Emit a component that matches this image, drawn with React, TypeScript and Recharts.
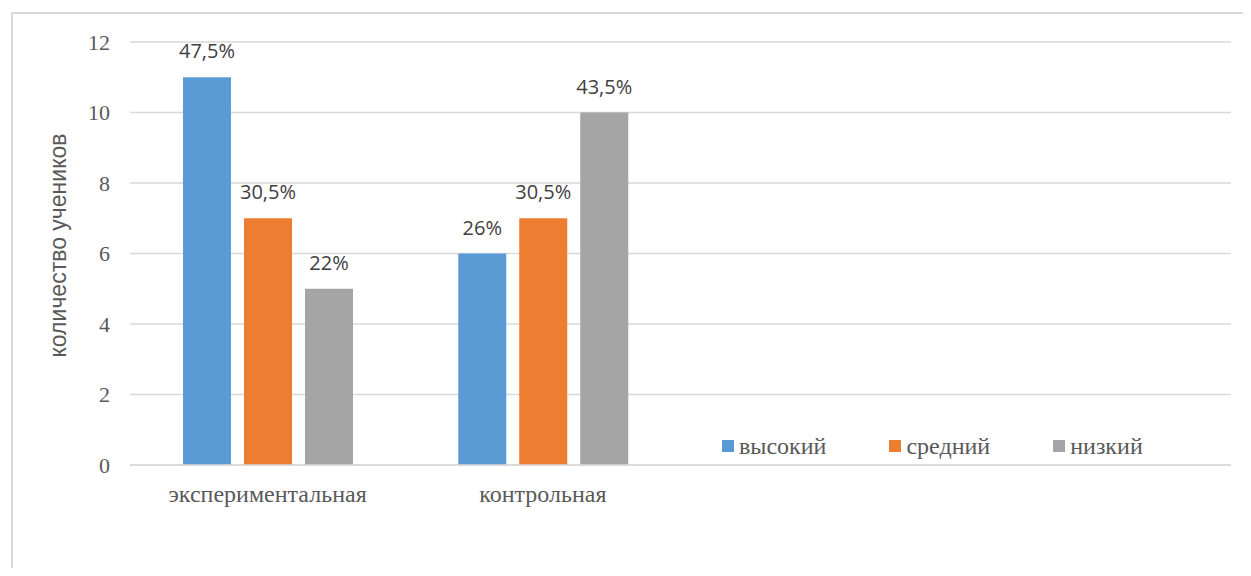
import React from "react";
import { Bar, BarChart, CartesianGrid, LabelList, Legend, XAxis, YAxis } from "recharts";

const categories = ["экспериментальная", "контрольная", " ", "  "];
const highValues = [11, 6, null, null];
const midValues = [7, 7, null, null];
const lowValues = [5, 10, null, null];
const highLabels = ["47,5%", "26%", "", ""];
const midLabels = ["30,5%", "30,5%", "", ""];
const lowLabels = ["22%", "43,5%", "", ""];
const yTicks = [0, 2, 4, 6, 8, 10, 12];

const series = [
  { key: "high", label: "high_pct", name: "высокий", color: "#5b9bd5" },
  { key: "mid", label: "mid_pct", name: "средний", color: "#ed7d31" },
  { key: "low", label: "low_pct", name: "низкий", color: "#a5a5a5" }
];

const data = categories.map((name, i) => ({
  name,
  high: highValues[i],
  mid: midValues[i],
  low: lowValues[i],
  high_pct: highLabels[i],
  mid_pct: midLabels[i],
  low_pct: lowLabels[i]
}));

const serif = "'Liberation Serif', serif";
const sans = "'Open Sans', 'Noto Sans', sans-serif";
const titleFont = "'Liberation Sans', Arial, sans-serif";

// legend is drawn from the series list so the order stays as in the chart
function LegendBox() {
  return (
    <div style={{ display: "flex", fontFamily: serif, fontSize: 24, color: "#595959", lineHeight: "32px" }}>
      {series.map((s) => (
        <div key={s.key} style={{ display: "flex", alignItems: "center", marginRight: 63 }}>
          <span style={{ width: 12, height: 12, background: s.color, marginRight: 5, display: "inline-block" }} />
          <span>{s.name}</span>
        </div>
      ))}
    </div>
  );
}

function AxisTitle({ viewBox }: any) {
  const x = viewBox.x + 8;
  const y = viewBox.y + viewBox.height / 2 - 8;
  return (
    <text x={x} y={y} transform={`rotate(-90 ${x} ${y})`} textAnchor="middle" dominantBaseline="central"
      fontFamily={titleFont} fontSize={23} fill="#595959">
      количество учеников
    </text>
  );
}

export default function App() {
  return (
    <div style={{ position: "relative", width: 1251, height: 576, margin: -8, overflow: "hidden", background: "#fff" }}>
      <div style={{ position: "absolute", left: 11, top: 12, width: 1270, height: 620, border: "2px solid #d9d9d9" }} />
      <div style={{ position: "absolute", left: 0, top: 0 }}>
        <BarChart width={1251} height={576} data={data} margin={{ top: 42, right: 20, bottom: 81, left: 50 }}
          barSize={48} barGap={13}>
          <CartesianGrid vertical={false} stroke="#d9d9d9" strokeWidth={1.5} />
          <XAxis dataKey="name" height={30} axisLine={{ stroke: "#d9d9d9", strokeWidth: 1.5 }} tickLine={false}
            tickMargin={14} tick={{ fontFamily: serif, fontSize: 24, fill: "#595959" }} interval={0} />
          <YAxis width={80} domain={[0, 12]} ticks={yTicks} axisLine={false} tickLine={false} tickSize={0}
            tickMargin={20} tick={{ fontFamily: serif, fontSize: 22, fill: "#595959" }}
            label={<AxisTitle />} />
          <Legend layout="horizontal" verticalAlign="middle" align="center" content={<LegendBox />}
            wrapperStyle={{ position: "absolute", left: 722, top: 430, width: 520, height: 32 }} />
          {series.map((s) => (
            <Bar key={s.key} dataKey={s.key} name={s.name} fill={s.color} isAnimationActive={false}>
              <LabelList dataKey={s.label} position="top" offset={19} fontFamily={sans} fontSize={20} fill="#404040" />
            </Bar>
          ))}
        </BarChart>
      </div>
    </div>
  );
}
